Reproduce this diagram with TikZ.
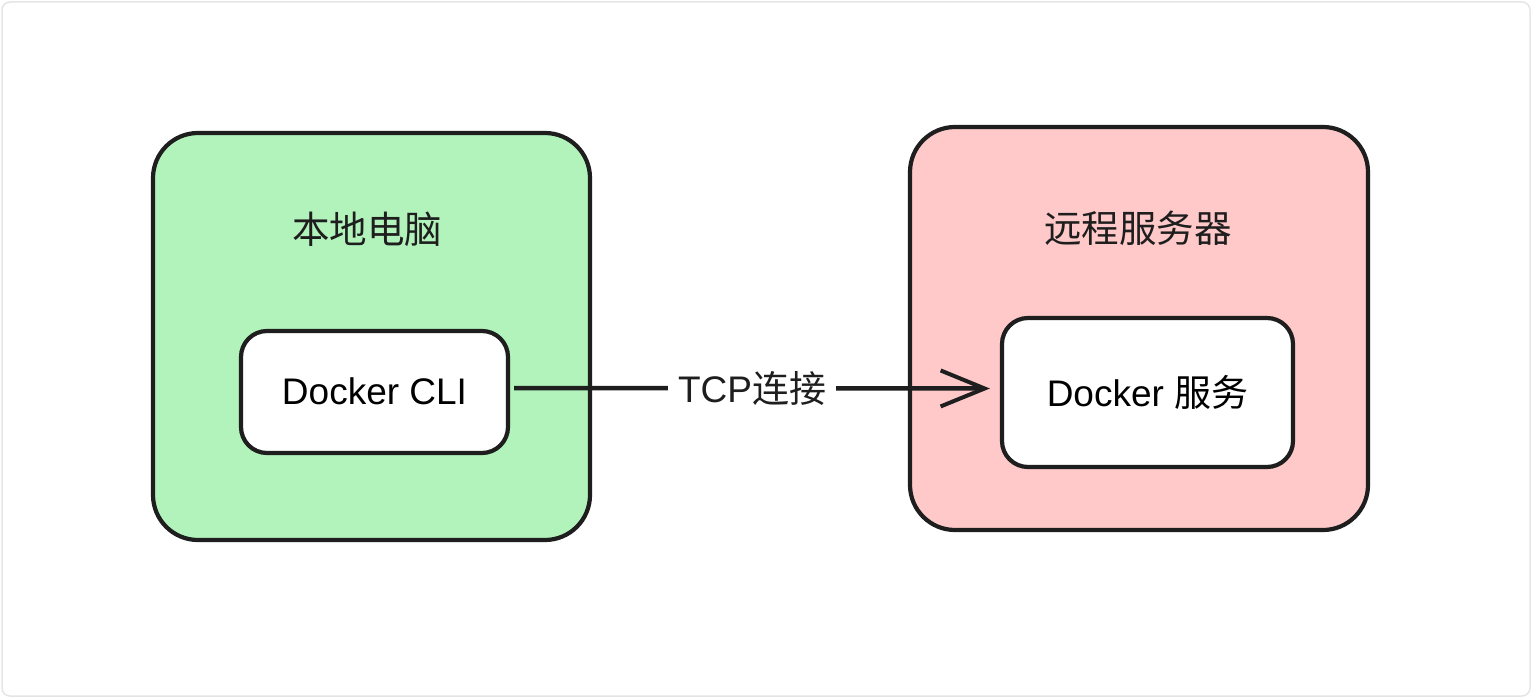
\documentclass[tikz,border=0pt]{standalone}
\usepackage{fontspec}
\setmainfont{Liberation Sans}
\newfontfamily\cjk{Noto Sans CJK SC}
\usepackage{xcolor}
\usetikzlibrary{positioning}
\usetikzlibrary{arrows.meta}
\definecolor{localcolor}{HTML}{B2F2BB}
\definecolor{remotecolor}{HTML}{FFC9C9}
\definecolor{inkcolor}{HTML}{1E1E1E}

\begin{document}
\begin{tikzpicture}[
    x=1pt, y=-1pt,
    hostblock/.style={rectangle, draw=inkcolor, line width=4.2pt, rounded corners=45pt},
    localblock/.style={hostblock, fill=localcolor, minimum width=437pt, minimum height=407pt},
    remoteblock/.style={hostblock, fill=remotecolor, minimum width=458pt, minimum height=403pt},
    appblock/.style={rectangle, draw=inkcolor, fill=white, line width=4.2pt, rounded corners=26pt, font=\fontsize{37}{42}\selectfont},
    hostlabel/.style={text=inkcolor, font=\fontsize{37.5}{42}\selectfont},
    arrow/.style={-{Straight Barb[length=44pt, width=36pt, line width=4pt]}, line width=4.5pt, draw=inkcolor}
]

% Frame
\useasboundingbox (0,0) rectangle (1532,698);
\draw[draw=gray!20, line width=1.5pt, rounded corners=8pt, fill=white] (2,2) rectangle (1530,696);

% Local machine
\node[localblock] (local) at (371.5,336.5) {};
\node[hostlabel] (locallabel) at (367,229) {\cjk 本地电脑};
\node[appblock, minimum width=267pt, minimum height=122pt] (cli) at (374.5,392) {\raisebox{2pt}{Docker CLI}};

% Remote server
\node[remoteblock] (remote) at (1139,328.5) {};
\node[hostlabel] (remotelabel) at (1138,228) {\cjk 远程服务器};
\node[appblock, minimum width=291pt, minimum height=149pt] (daemon) at (1147.5,392.5) {\raisebox{2pt}{Docker {\cjk 服务}}};

% Connection
\draw[arrow] ([xshift=4pt, yshift=4pt]cli.east) -- node[fill=white, inner xsep=10pt, text=inkcolor, font=\fontsize{37}{42}\selectfont] (tcp) {TCP{\cjk 连接}} ([xshift=-10pt, yshift=4pt]daemon.west);

\end{tikzpicture}
\end{document}
